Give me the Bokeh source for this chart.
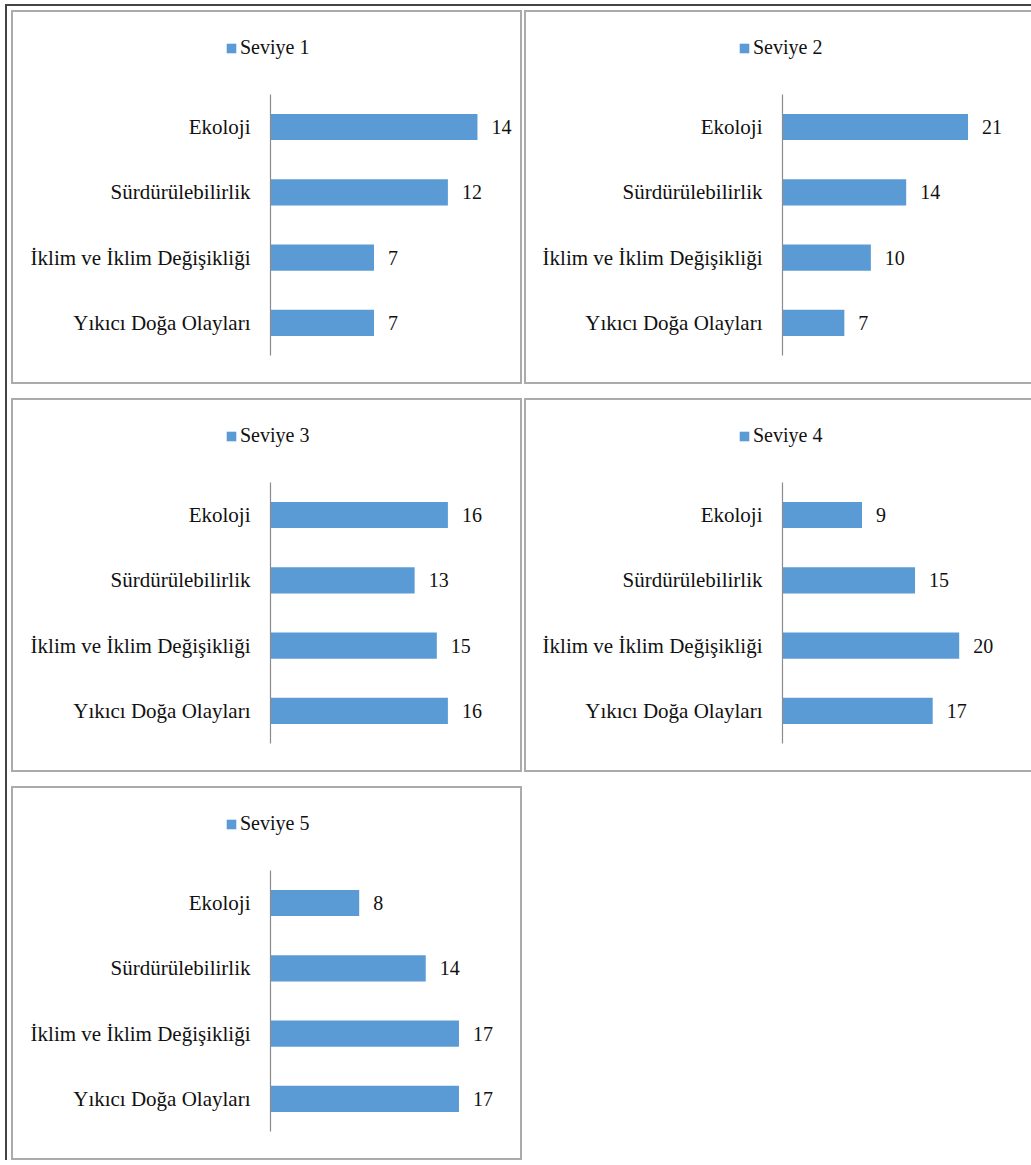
from bokeh.plotting import figure
from bokeh.models import Range1d, ColumnDataSource, Legend, LegendItem, FixedTicker
from bokeh.layouts import row, column
from bokeh.embed import file_html
from bokeh.resources import INLINE
from bokeh.core.properties import value

categories = ["Ekoloji", "Sürdürülebilirlik", "İklim ve İklim Değişikliği", "Yıkıcı Doğa Olayları"]
levels = ["Seviye 1", "Seviye 2", "Seviye 3", "Seviye 4", "Seviye 5"]
seviye_1 = [14, 12, 7, 7]
seviye_2 = [21, 14, 10, 7]
seviye_3 = [16, 13, 15, 16]
seviye_4 = [9, 15, 20, 17]
seviye_5 = [8, 14, 17, 17]
axis_max = [15, 25, 20, 25, 20]

BAR = "#5B9BD5"
FONT = "Liberation Serif"
TXT = "#111111"
PLOT_W = 220        # pixel width of the original plot area
LEFT = 255          # pixels from inner panel edge to category axis
PX_PER_CAT = 64.6   # pixel height of one category band
TOP_PAD = 81
PANEL_H = 374
INNER_H = PANEL_H - 4

n = len(categories)
ypos = [n - 1 - i for i in range(n)]
BOT_PAD = INNER_H - TOP_PAD - n * PX_PER_CAT


def make_panel(level, vals, xmax, width, border_style):
    inner_w = width - (2 if border_style.get("border-right") == "none" else 4)
    s = xmax / PLOT_W
    src = ColumnDataSource(dict(y=ypos, val=vals, lbl=[str(v) for v in vals]))
    p = figure(
        y_range=Range1d(-0.5 - BOT_PAD / PX_PER_CAT, n - 0.5 + TOP_PAD / PX_PER_CAT),
        x_range=Range1d(-LEFT * s, (inner_w - LEFT) * s),
        width=width, height=PANEL_H,
        output_backend="svg", toolbar_location=None,
        min_border=0, min_border_left=0, min_border_right=0,
        min_border_top=0, min_border_bottom=0,
        styles=border_style,
    )
    p.xaxis.visible = False
    p.grid.visible = False
    p.outline_line_color = None
    p.background_fill_color = "white"
    p.border_fill_color = "white"
    ya = p.yaxis[0]
    ya.fixed_location = 0
    ya.bounds = (-0.5, n - 0.5)
    ya.ticker = FixedTicker(ticks=ypos)
    ya.major_label_overrides = {y: c for y, c in zip(ypos, categories)}
    ya.axis_line_color = "#8c8c8c"
    ya.axis_line_width = 1.2
    ya.major_tick_line_color = None
    ya.minor_tick_line_color = None
    ya.major_label_standoff = 14
    ya.major_label_text_font = FONT
    ya.major_label_text_font_size = "21px"
    ya.major_label_text_color = TXT

    r = p.hbar(y="y", left=0, right="val", height=0.40, source=src,
               fill_color=BAR, line_color=None)
    p.text(x="val", y="y", text="lbl", source=src, x_offset=14,
           text_align="left", text_baseline="middle",
           text_font=value(FONT), text_font_size="20px", text_color=TXT)

    legend = Legend(items=[LegendItem(label=level, renderers=[r])],
                    location=(212, 327), orientation="horizontal",
                    padding=0, margin=0, spacing=0,
                    glyph_width=12, glyph_height=12, label_standoff=3,
                    label_text_font=FONT, label_text_font_size="20px",
                    label_text_color=TXT,
                    border_line_color=None, background_fill_alpha=0)
    p.add_layout(legend)
    return p


full_border = {"border": "2px solid #ababab"}
open_border = {"border-top": "2px solid #ababab", "border-bottom": "2px solid #ababab",
               "border-left": "2px solid #ababab", "border-right": "none"}

series = [seviye_1, seviye_2, seviye_3, seviye_4, seviye_5]
widths = [511, 507, 511, 507, 511]
borders = [full_border, open_border, full_border, open_border, full_border]
panels = [make_panel(levels[i], series[i], axis_max[i], widths[i], borders[i]) for i in range(5)]

layout = column(
    row(panels[0], panels[1], spacing=2),
    row(panels[2], panels[3], spacing=2),
    row(panels[4]),
    spacing=14,
    styles={"margin-left": "5px", "margin-top": "4px",
            "border-left": "2px solid #444444", "border-top": "2px solid #444444",
            "padding-left": "4px", "padding-top": "4px"},
)

open("out.html", "w").write(file_html(layout, INLINE))
